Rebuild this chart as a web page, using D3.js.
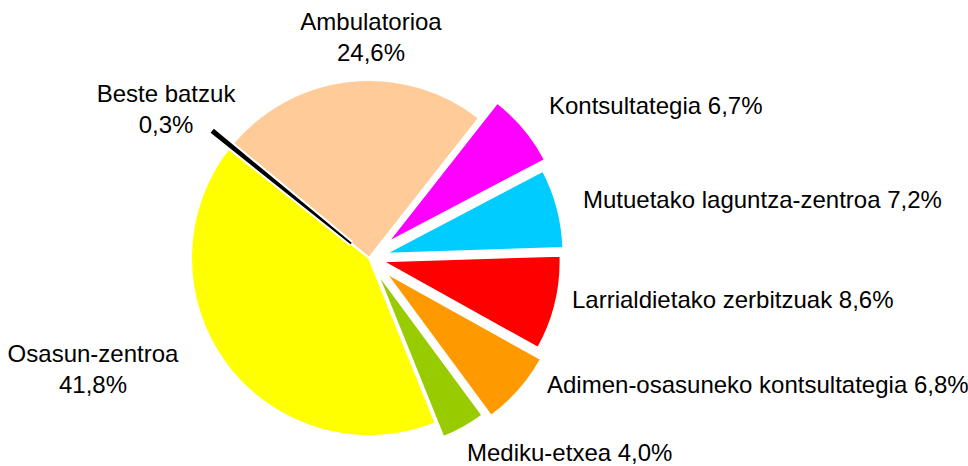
<!DOCTYPE html>
<html>
<head>
<meta charset="utf-8">
<script src="https://cdn.jsdelivr.net/npm/d3@7"></script>
<style>
  body { margin: 0; background: #fff; }
  text { font-family: "Liberation Sans", Arial, sans-serif; font-size: 24px; fill: #000; }
</style>
</head>
<body>
<svg id="chart" width="968" height="466"></svg>
<script>
// data
var categories = ["Beste batzuk", "Ambulatorioa", "Kontsultategia", "Mutuetako laguntza-zentroa",
  "Larrialdietako zerbitzuak", "Adimen-osasuneko kontsultategia", "Mediku-etxea", "Osasun-zentroa"];
var values = [0.3, 24.6, 6.7, 7.2, 8.6, 6.8, 4.0, 41.8];
var valueLabels = ["0,3%", "24,6%", "6,7%", "7,2%", "8,6%", "6,8%", "4,0%", "41,8%"];

// styling / layout
var colors = ["#000000", "#FFCC99", "#FF00FF", "#00CCFF", "#FF0000", "#FF9900", "#99CC00", "#FFFF00"];
var explode = [23, 0, 24, 17, 14, 22, 16, 0];
// label layout: [x, y, anchor, twoLines]
var labelPos = [
  [166, 102, "middle", true],
  [371, 30, "middle", true],
  [549, 114, "start", false],
  [583, 208, "start", false],
  [572, 308, "start", false],
  [547, 393, "start", false],
  [467, 461, "start", false],
  [93, 362, "middle", true]
];

var cx = 369, cy = 258, radius = 178;
var startDeg = -51.5;

var svg = d3.select("#chart");

var pie = d3.pie()
  .sort(null)
  .startAngle(startDeg * Math.PI / 180)
  .endAngle(startDeg * Math.PI / 180 + 2 * Math.PI)
  .value(function(d) { return d; });

var arc = d3.arc().innerRadius(0).outerRadius(radius);

var slices = pie(values);
slices.forEach(function(d, i) { d.idx = i; });

var g = svg.append("g").attr("transform", "translate(" + cx + "," + cy + ")");

function shift(d) {
  var mid = (d.startAngle + d.endAngle) / 2;
  var e = explode[d.idx];
  return "translate(" + (e * Math.sin(mid)) + "," + (-e * Math.cos(mid)) + ")";
}

g.selectAll("path.slice")
  .data(slices.slice(1))
  .enter()
  .append("path")
  .attr("class", "slice")
  .attr("d", arc)
  .attr("fill", function(d) { return colors[d.idx]; })
  .attr("stroke", "#fff")
  .attr("stroke-width", 2)
  .attr("transform", shift);

// tiny "Beste batzuk" slice on top, with a white halo so it stays apart
var other = g.append("g").datum(slices[0]).attr("transform", shift);
other.append("path")
  .attr("d", arc)
  .attr("fill", "#fff")
  .attr("stroke", "#fff")
  .attr("stroke-width", 6);
other.append("path")
  .attr("d", arc)
  .attr("fill", colors[0])
  .attr("stroke", colors[0])
  .attr("stroke-width", 1.8);

// labels
categories.forEach(function(c, i) {
  var p = labelPos[i];
  if (p[3]) {
    svg.append("text").attr("x", p[0]).attr("y", p[1]).attr("text-anchor", p[2]).text(c);
    svg.append("text").attr("x", p[0]).attr("y", p[1] + 31).attr("text-anchor", p[2]).text(valueLabels[i]);
  } else {
    svg.append("text").attr("x", p[0]).attr("y", p[1]).attr("text-anchor", p[2]).text(c + " " + valueLabels[i]);
  }
});
</script>
</body>
</html>
